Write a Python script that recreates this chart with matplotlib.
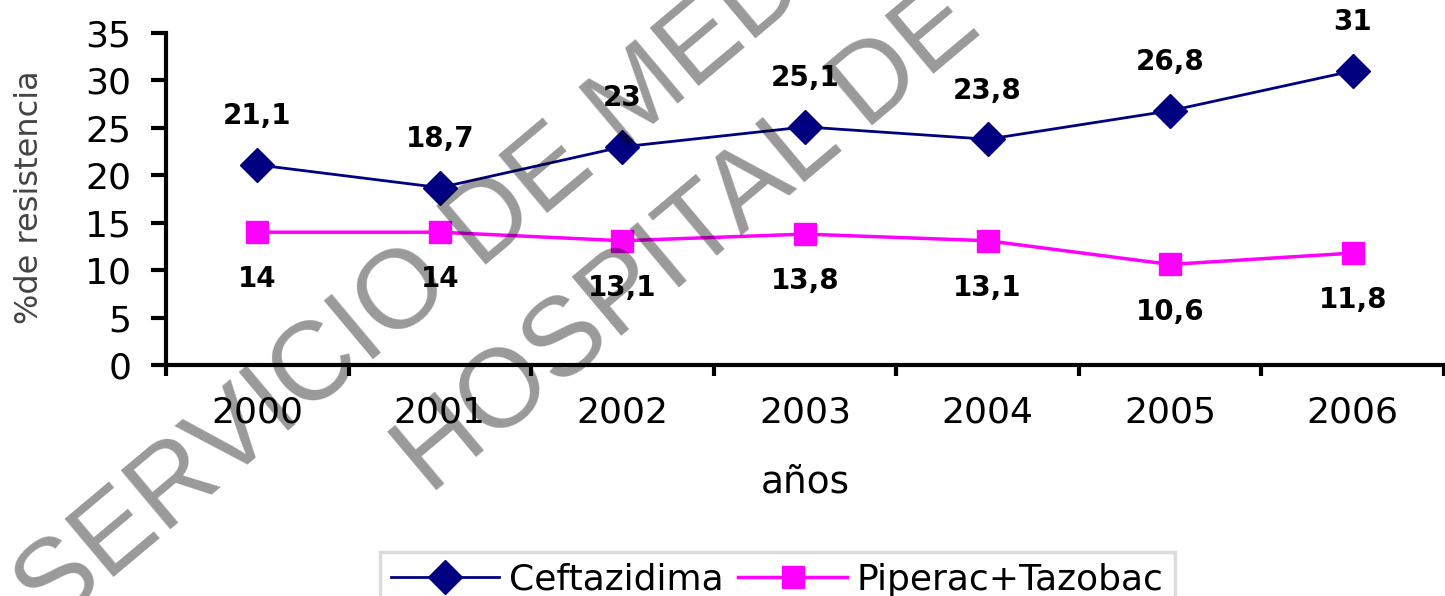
import matplotlib
matplotlib.use('Agg')
import matplotlib.pyplot as plt
import matplotlib.ticker as ticker

# datos del grafico
anios = ['2000', '2001', '2002', '2003', '2004', '2005', '2006']
ceftazidima = [21.1, 18.7, 23, 25.1, 23.8, 26.8, 31]
piperac = [14, 14, 13.1, 13.8, 13.1, 10.6, 11.8]
etiq_cef = ['21,1', '18,7', '23', '25,1', '23,8', '26,8', '31']
etiq_pip = ['14', '14', '13,1', '13,8', '13,1', '10,6', '11,8']

plt.rcParams['font.family'] = ['DejaVu Sans']

fig = plt.figure(figsize=(14.45, 5.96), dpi=100)
ax = fig.add_axes([166 / 1445, 1 - 365 / 596, 1278 / 1445, 332 / 596])

x = list(range(len(anios)))
ax.plot(x, ceftazidima, color='#000080', lw=2, marker='D', ms=17,
        label='Ceftazidima', zorder=3)
ax.plot(x, piperac, color='#ff00ff', lw=2.5, marker='s', ms=16,
        label='Piperac+Tazobac', zorder=3)

for xi, v, t in zip(x, ceftazidima, etiq_cef):
    ax.annotate(t, (xi, v), xytext=(0, 35), textcoords='offset points',
                ha='center', va='center', fontsize=20, fontweight='bold')
for xi, v, t in zip(x, piperac, etiq_pip):
    ax.annotate(t, (xi, v), xytext=(0, -34), textcoords='offset points',
                ha='center', va='center', fontsize=20, fontweight='bold')

ax.set_xlim(-0.5, len(anios) - 0.5)
ax.set_ylim(0, 35)
ax.yaxis.set_major_locator(ticker.MultipleLocator(5))
ax.xaxis.set_major_locator(ticker.FixedLocator([i - 0.5 for i in range(len(anios) + 1)]))
ax.xaxis.set_major_formatter(ticker.NullFormatter())
ax.xaxis.set_minor_locator(ticker.FixedLocator(x))
ax.xaxis.set_minor_formatter(ticker.FixedFormatter(anios))

for s in ['top', 'right']:
    ax.spines[s].set_visible(False)
for s in ['left', 'bottom']:
    ax.spines[s].set_linewidth(3)

ax.tick_params(axis='y', which='major', length=11, width=3, labelsize=26, pad=14)
ax.tick_params(axis='x', which='major', length=8, width=3)
ax.tick_params(axis='x', which='minor', length=0, labelsize=26, pad=22)

ax.set_xlabel('años', fontsize=27, labelpad=25)
fig.text(30 / 1445, 1 - 197 / 596, '%de resistencia', rotation=90,
         ha='center', va='center', fontsize=23, color='#444444')

leg = fig.legend(loc='upper left', bbox_to_anchor=(380 / 1445, 1 - 552 / 596),
                 ncol=2, fontsize=26, frameon=True, fancybox=False,
                 borderaxespad=0, borderpad=0.3, handlelength=3.0,
                 handletextpad=0.28, columnspacing=0.4)
leg.get_frame().set_edgecolor('#d4d4d4')
leg.get_frame().set_linewidth(2.5)

# marca de agua
fig.text(50 / 1445, 1 - 630 / 596, 'SERVICIO DE MEDICINA', rotation=40,
         rotation_mode='anchor', ha='left', va='baseline', fontsize=80,
         family='Liberation Sans', color='black', alpha=0.4, zorder=10)
fig.text(430 / 1445, 1 - 496 / 596, 'HOSPITAL DE', rotation=40,
         rotation_mode='anchor', ha='left', va='baseline', fontsize=80,
         family='Liberation Sans', color='black', alpha=0.4, zorder=10)

fig.savefig('out.png', dpi=100)
